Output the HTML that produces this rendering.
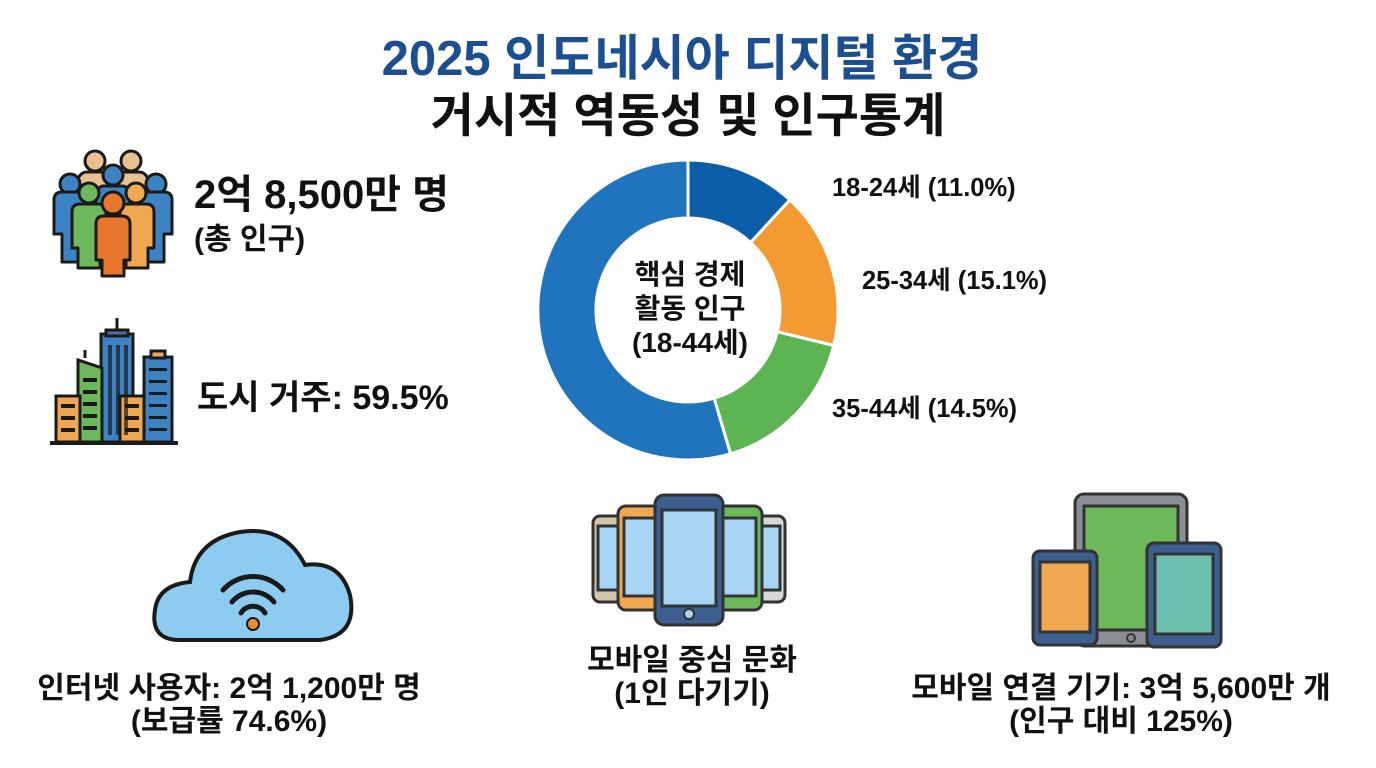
<!DOCTYPE html>
<html><head><meta charset="utf-8"><style>
html,body{margin:0;padding:0;background:#fff;}
svg{display:block;}
text{font-family:"Liberation Sans","Noto Sans CJK KR",sans-serif;font-weight:bold;}
</style></head><body>
<svg width="1376" height="768" viewBox="0 0 1376 768" xmlns="http://www.w3.org/2000/svg">
<rect width="1376" height="768" fill="#fff"/>
<text x="682" y="75" text-anchor="middle" font-size="49" fill="#1b4f91">2025 인도네시아 디지털 환경</text>
<text x="688" y="132" text-anchor="middle" font-size="47" fill="#111">거시적 역동성 및 인구통계</text>

<!-- people icon -->
<g stroke="#1a1a1a" stroke-width="3" stroke-linejoin="round">
  <g fill="#e9c08f"><circle cx="95" cy="161" r="10"/><circle cx="131" cy="161" r="10"/>
  <rect x="78" y="172" width="34" height="40" rx="9"/><rect x="114" y="172" width="34" height="40" rx="9"/></g>
  <g fill="#3d83c4"><circle cx="70" cy="184" r="10"/><circle cx="156" cy="184" r="10"/><circle cx="113" cy="175" r="10"/>
  <path d="M54 200 q0-8 8-8 h18 q8 0 8 8 v34 h-6 v28 h-20 v-28 h-8z"/>
  <path d="M138 200 q0-8 8-8 h18 q8 0 8 8 v34 h-8 v28 h-20 v-28 h-6z"/>
  <rect x="96" y="186" width="34" height="30" rx="8"/></g>
  <g fill="#6db85a"><circle cx="89" cy="193" r="10"/><path d="M72 212 q0-8 8-8 h18 q8 0 8 8 v36 h-6 v20 h-22 v-20 h-6z"/></g>
  <g fill="#f0a850"><circle cx="136" cy="193" r="10"/><path d="M120 212 q0-8 8-8 h18 q8 0 8 8 v36 h-6 v20 h-22 v-20 h-6z"/></g>
  <g fill="#e8772e"><circle cx="113" cy="203" r="11"/><path d="M96 224 q0-8 8-8 h18 q8 0 8 8 v36 h-6 v16 h-22 v-16 h-6z"/></g>
</g>

<!-- buildings icon -->
<g stroke="#1a1a1a" stroke-width="3">
  <line x1="117" y1="318" x2="117" y2="335"/>
  <rect x="101" y="334" width="32" height="108" fill="#3d83c4"/>
  <rect x="106" y="330" width="22" height="6" fill="#4a6fa0"/>
  <path d="M78 360 L78 442 L102 442 L102 368 Z" fill="#6db85a"/>
  <line x1="85" y1="358" x2="85" y2="350"/>
  <rect x="144" y="357" width="28" height="85" fill="#3d83c4"/>
  <rect x="151" y="351" width="14" height="7" fill="#e9a860"/>
  <rect x="56" y="396" width="24" height="46" fill="#f0a850"/>
  <rect x="120" y="396" width="24" height="46" fill="#f0a850"/>
  <line x1="50" y1="443" x2="178" y2="443" stroke-width="4"/>
</g>
<g fill="#1a1a1a">
  <rect x="108" y="345" width="4" height="90" opacity=".7"/><rect x="116" y="345" width="4" height="90" opacity=".7"/><rect x="124" y="345" width="4" height="90" opacity=".7"/>
  <rect x="83" y="378" width="14" height="4"/><rect x="83" y="390" width="14" height="4"/><rect x="83" y="402" width="14" height="4"/><rect x="83" y="414" width="14" height="4"/><rect x="83" y="426" width="14" height="4"/>
  <rect x="149" y="368" width="18" height="3"/><rect x="149" y="380" width="18" height="3"/><rect x="149" y="392" width="18" height="3"/><rect x="149" y="404" width="18" height="3"/><rect x="149" y="416" width="18" height="3"/><rect x="149" y="428" width="18" height="3"/>
  <rect x="61" y="404" width="14" height="4"/><rect x="61" y="416" width="14" height="4"/><rect x="61" y="428" width="14" height="4"/>
  <rect x="125" y="404" width="14" height="4"/><rect x="125" y="416" width="14" height="4"/><rect x="125" y="428" width="14" height="4"/>
</g>

<text x="194" y="208" font-size="40" fill="#111">2억 8,500만 명</text>
<text x="194" y="249" font-size="30" fill="#111">(총 인구)</text>
<text x="197" y="409" font-size="34" fill="#111">도시 거주: 59.5%</text>

<!-- donut -->
<g stroke="#fff" stroke-width="3">
  <path d="M688 160 A150 150 0 0 1 789.9 199.9 L750.6 242.5 A92 92 0 0 0 688 218 Z" fill="#0d5ea8"/>
  <path d="M789.9 199.9 A150 150 0 0 1 833.7 345.5 L777.4 331.8 A92 92 0 0 0 750.6 242.5 Z" fill="#f39a30"/>
  <path d="M833.7 345.5 A150 150 0 0 1 730.5 453.8 L714.1 398.2 A92 92 0 0 0 777.4 331.8 Z" fill="#5cb453"/>
  <path d="M730.5 453.8 A150 150 0 1 1 688 160 L688 218 A92 92 0 1 0 714.1 398.2 Z" fill="#1f74bd"/>
</g>
<text x="690" y="284" text-anchor="middle" font-size="28" fill="#111">핵심 경제</text>
<text x="690" y="318" text-anchor="middle" font-size="28" fill="#111">활동 인구</text>
<text x="690" y="352" text-anchor="middle" font-size="28" fill="#111">(18-44세)</text>
<text x="832" y="196" font-size="25.5" fill="#111" style="font-weight:600">18-24세 (11.0%)</text>
<text x="862" y="289" font-size="25.5" fill="#111" style="font-weight:600">25-34세 (15.1%)</text>
<text x="832" y="417" font-size="25.5" fill="#111" style="font-weight:600">35-44세 (14.5%)</text>

<!-- cloud -->
<path d="M180 640 Q150 640 155 610 Q158 585 190 582 Q195 540 240 532 Q285 525 305 565 Q340 560 350 595 Q358 635 320 640 Z" fill="#8ecbf0" stroke="#1a1a1a" stroke-width="4"/>
<g fill="none" stroke="#1a1a1a" stroke-width="5" stroke-linecap="round">
  <path d="M223 590 A40 40 0 0 1 283 590"/><path d="M232 602 A27 27 0 0 1 274 602"/><path d="M241 613 A14 14 0 0 1 265 613"/>
</g>
<circle cx="253" cy="624" r="6" fill="#f08a30" stroke="#1a1a1a" stroke-width="2"/>

<!-- phones -->
<g stroke="#333" stroke-width="3">
  <rect x="593" y="516" width="44" height="86" rx="7" fill="#d4c4a8"/><rect x="598" y="526" width="34" height="64" fill="#a9d5f5"/>
  <rect x="741" y="516" width="44" height="86" rx="7" fill="#d8d8d8"/><rect x="746" y="526" width="34" height="64" fill="#a9d5f5"/>
  <rect x="618" y="506" width="46" height="104" rx="8" fill="#f0a850"/><rect x="624" y="518" width="34" height="78" fill="#a9d5f5"/>
  <rect x="716" y="506" width="46" height="104" rx="8" fill="#6db85a"/><rect x="722" y="518" width="34" height="78" fill="#a9d5f5"/>
  <rect x="655" y="495" width="68" height="130" rx="9" fill="#3d5f90"/><rect x="662" y="510" width="54" height="96" fill="#a9d5f5"/>
</g>
<circle cx="689" cy="614" r="5" fill="#a9d5f5" stroke="#333" stroke-width="2"/>

<!-- tablets -->
<g stroke="#333" stroke-width="3">
  <rect x="1075" y="494" width="112" height="152" rx="9" fill="#8a8f96"/><rect x="1084" y="506" width="94" height="124" fill="#6db85a"/>
  <rect x="1033" y="551" width="64" height="94" rx="7" fill="#3d5f90"/><rect x="1040" y="562" width="50" height="70" fill="#f0a850"/>
  <rect x="1147" y="543" width="74" height="104" rx="7" fill="#3d5f90"/><rect x="1155" y="554" width="58" height="80" fill="#6cc0b0"/>
</g>
<circle cx="1131" cy="638" r="4" fill="#888" stroke="#333" stroke-width="2"/>

<text x="229" y="698" text-anchor="middle" font-size="30" fill="#111">인터넷 사용자: 2억 1,200만 명</text>
<text x="229" y="731" text-anchor="middle" font-size="30" fill="#111">(보급률 74.6%)</text>
<text x="692" y="670" text-anchor="middle" font-size="30" fill="#111">모바일 중심 문화</text>
<text x="692" y="703" text-anchor="middle" font-size="30" fill="#111">(1인 다기기)</text>
<text x="1121" y="698" text-anchor="middle" font-size="30" fill="#111">모바일 연결 기기: 3억 5,600만 개</text>
<text x="1121" y="731" text-anchor="middle" font-size="30" fill="#111">(인구 대비 125%)</text>
</svg>
</body></html>
